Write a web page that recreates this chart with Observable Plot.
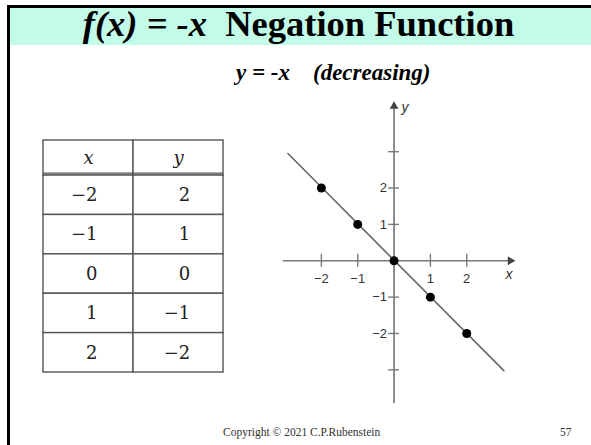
<!DOCTYPE html>
<html>
<head>
<meta charset="utf-8">
<script src="https://cdn.jsdelivr.net/npm/d3@7"></script>
<script src="https://cdn.jsdelivr.net/npm/@observablehq/plot@0.6"></script>
<style>
  html, body { margin: 0; padding: 0; background: #fff; }
  #page { position: relative; width: 591px; height: 445px; overflow: hidden; background: #fff; }
  #band { position: absolute; left: 7px; top: 5px; right: 0; height: 37px; background: #c3fbe9; border-top: 3px solid #000; }
  #leftborder { position: absolute; left: 7px; top: 5px; width: 3px; bottom: 0; background: #000; }
  .title { position: absolute; left: 0; width: 597px; top: 2px; text-align: center; font-family: "Liberation Serif", "Times New Roman", serif; font-weight: bold; font-size: 36.5px; color: #000; white-space: pre; }
  .subtitle { position: absolute; left: 236px; top: 60px; font-family: "Liberation Serif", "Times New Roman", serif; font-weight: bold; font-style: italic; font-size: 23px; color: #000; white-space: pre; }
  .footer { position: absolute; top: 426px; font-family: "Liberation Serif", "Times New Roman", serif; font-size: 11.5px; color: #333; }
  #table { position: absolute; left: 40px; top: 137px; }
  #graph { position: absolute; left: 270px; top: 93px; }
</style>
</head>
<body>
<div id="page">
  <div id="band"></div>
  <div id="leftborder"></div>
  <div class="title"><i>f(x) = -x</i>  Negation Function</div>
  <div class="subtitle">y = -x    (decreasing)</div>
  <div id="table"></div>
  <div id="graph"></div>
  <div class="footer" style="left:223px;">Copyright © 2021 C.P.Rubenstein</div>
  <div class="footer" style="left:560px;">57</div>
</div>
<script>
// ---- data ----
const headers = ["x", "y"];
const xValues = [-2, -1, 0, 1, 2];
const yValues = [2, 1, 0, -1, -2];
const lineX = [-2.92, 3.02];
const lineY = [2.95, -3.02];
const xTickValues = [-2, -1, 1, 2];
const xTickLabels = ["−2", "−1", "1", "2"];
const yTickValues = [-3, -2, -1, 1, 2, 3];
const yLabelValues = [-2, -1, 1, 2];
const yLabelTexts = ["−2", "−1", "1", "2"];
const xAxisExtent = [-3.05, 3.3];
const yAxisExtent = [-3.93, 4.35];

const fmt = v => (v < 0 ? "−" + Math.abs(v) : String(v));

// ---- table ----
const hdrH = 0.89; // header row height in row units
const rowsData = xValues.map((x, i) => ({ i, x, y: yValues[i], y1: hdrH + i, y2: hdrH + i + 1 }));
const cellRects = [];
for (let c = 0; c < 2; c++) {
  cellRects.push({ x1: c, x2: c + 1, y1: 0, y2: hdrH });
  rowsData.forEach(r => cellRects.push({ x1: c, x2: c + 1, y1: r.y1, y2: r.y2 }));
}
const tableFont = "'DejaVu Serif', 'Liberation Serif', serif";
const tbl = Plot.plot({
  width: 186, height: 238, margin: 3,
  x: { domain: [0, 2], axis: null },
  y: { domain: [0, hdrH + 5], range: [3, 235], axis: null },
  marks: [
    Plot.rect(cellRects, { x1: "x1", x2: "x2", y1: "y1", y2: "y2", fill: "white", stroke: "#555", strokeWidth: 1.4 }),
    Plot.ruleY([hdrH - 0.06], { x1: 0, x2: 2, stroke: "#555", strokeWidth: 1.2 }),
    Plot.text(headers, { x: (d, i) => i + 0.5, y: hdrH / 2, text: d => d, fontFamily: tableFont, fontStyle: "italic", fontSize: 18, fill: "#222" }),
    Plot.text(rowsData, { x: 0.6, y: d => (d.y1 + d.y2) / 2, text: d => fmt(d.x), textAnchor: "end", fontFamily: tableFont, fontSize: 18, fill: "#222" }),
    Plot.text(rowsData, { x: 1.63, y: d => (d.y1 + d.y2) / 2, text: d => fmt(d.y), textAnchor: "end", fontFamily: tableFont, fontSize: 18, fill: "#222" })
  ]
});
document.getElementById("table").appendChild(tbl);

// ---- graph ----
const pts = xValues.map((x, i) => ({ x, y: yValues[i] }));
const linePts = lineX.map((x, i) => ({ x, y: lineY[i] }));
const axisColor = "#7a7a7a";
const sans = "'Liberation Sans', Arial, sans-serif";
const g = Plot.plot({
  width: 258, height: 320, margin: 0,
  style: { overflow: "visible" },
  x: { domain: [-3.4, 3.7], axis: null },
  y: { domain: [-4.2, 4.6], axis: null },
  marks: [
    Plot.ruleY([0], { x1: xAxisExtent[0], x2: xAxisExtent[1] - 0.12, stroke: axisColor, strokeWidth: 1.7 }),
    Plot.ruleX([0], { y1: yAxisExtent[0], y2: yAxisExtent[1] - 0.12, stroke: axisColor, strokeWidth: 1.7 }),
    Plot.ruleX(xTickValues, { x: d => d, y1: -0.18, y2: 0.18, stroke: axisColor, strokeWidth: 1.4 }),
    Plot.ruleY(yTickValues, { y: d => d, x1: -0.15, x2: 0.15, stroke: axisColor, strokeWidth: 1.4 }),
    Plot.dot([xAxisExtent[1]], { x: d => d - 0.1, y: 0, symbol: "triangle2", rotate: 90, r: 4.2, fill: "#444" }),
    Plot.dot([yAxisExtent[1]], { x: 0, y: d => d - 0.1, symbol: "triangle2", r: 4.2, fill: "#444" }),
    Plot.line(linePts, { x: "x", y: "y", stroke: "#666", strokeWidth: 1.6 }),
    Plot.dot(pts, { x: "x", y: "y", r: 4.5, fill: "#000" }),
    Plot.text(xTickValues, { x: d => d, y: 0, text: (d, i) => xTickLabels[i], dy: 18, fontFamily: sans, fontSize: 13, fill: "#333" }),
    Plot.text(yLabelValues, { x: 0, y: d => d, text: (d, i) => yLabelTexts[i], textAnchor: "end", dx: -7, fontFamily: sans, fontSize: 13, fill: "#333" }),
    Plot.text(["x"], { x: xAxisExtent[1], y: 0, text: d => d, dx: -5, dy: 14, fontFamily: sans, fontStyle: "italic", fontSize: 14, fill: "#333" }),
    Plot.text(["y"], { x: 0, y: yAxisExtent[1], text: d => d, dx: 11, dy: 5, fontFamily: sans, fontStyle: "italic", fontSize: 14, fill: "#333" })
  ]
});
document.getElementById("graph").appendChild(g);
</script>
</body>
</html>
